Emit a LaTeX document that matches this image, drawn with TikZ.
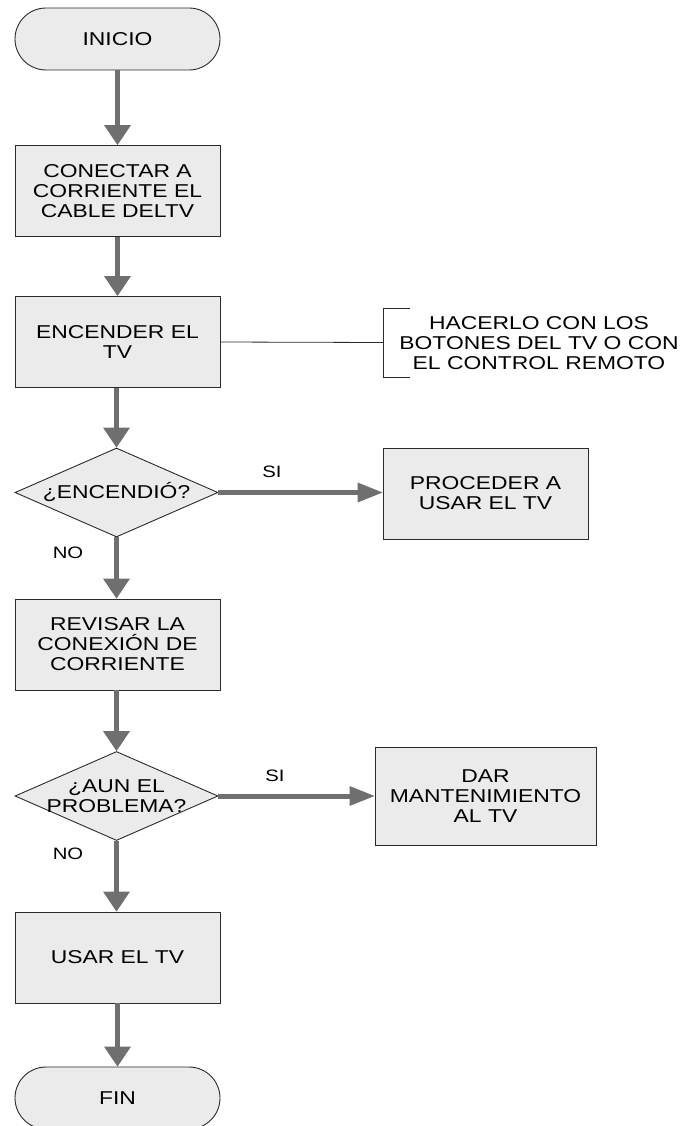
\documentclass[tikz,border=0pt]{standalone}
\usepackage{fontspec}
\setmainfont{Liberation Sans}[FakeStretch=1.23]
\usetikzlibrary{shapes.geometric,arrows.meta}

\definecolor{boxfill}{HTML}{EBEBEB}
\definecolor{linec}{HTML}{2A2A2A}
\definecolor{arrowc}{HTML}{6F6F6F}

\begin{document}
\begin{tikzpicture}[x=1pt,y=-1pt,
  every node/.style={font=\fontsize{18.6pt}{20pt}\selectfont, text=black},
  term/.style={draw=linec, fill=boxfill, line width=0.9pt, rounded corners=31pt,
    minimum width=205pt, minimum height=62pt, inner sep=0pt},
  proc/.style={draw=linec, fill=boxfill, line width=0.9pt, align=center,
    minimum width=205pt, minimum height=91pt, inner sep=0pt},
  decision/.style={diamond, draw=linec, fill=boxfill, line width=0.9pt,
    minimum width=203pt, minimum height=89pt, inner sep=0pt},
  txt/.style={align=center, inner sep=0pt},
  lbl/.style={font=\fontsize{16.5pt}{18pt}\selectfont, inner sep=0pt},
  vflow/.style={draw=arrowc, line width=5pt,
    -{Triangle[length=20pt,width=27pt,line width=0pt]}},
  hflow/.style={draw=arrowc, line width=5pt,
    -{Triangle[length=25pt,width=20pt,line width=0pt]}},
  note/.style={draw=linec, line width=0.8pt}
]
\useasboundingbox (0,0) rectangle (684,1126);

% main column
\node[term] (start) at (117.5,39) {INICIO};
\node[proc] (plug) at (117.5,191) {CONECTAR A\\CORRIENTE EL\\CABLE DELTV};
\node[proc] (power) at (117.5,342) {ENCENDER EL\\TV};
\node[decision] (q1) at (116.5,492.5) {};
\node[txt] (q1t) at (q1) {¿ENCENDIÓ?};
\node[proc] (check) at (117.5,644.5) {REVISAR LA\\CONEXIÓN DE\\CORRIENTE};
\node[decision] (q2) at (116.5,796) {};
\node[txt] (q2t) at (q2) {¿AUN EL\\PROBLEMA?};
\node[proc] (use) at (117.5,957.5) {USAR EL TV};
\node[term] (stop) at (117.5,1098) {FIN};

% side branches
\node[proc, minimum width=205pt, minimum height=91pt] (go) at (485.5,493.5) {PROCEDER A\\USAR EL TV};
\node[proc, minimum width=221pt, minimum height=98pt] (fix) at (485.5,796) {DAR\\MANTENIMIENTO\\AL TV};

% annotation
\coordinate (brk) at (383,342.5);
\node[txt] (hint) at (539,343) {HACERLO CON LOS\\BOTONES DEL TV O CON\\EL CONTROL REMOTO};
\draw[note] (power.east) -- (brk);
\draw[note] ([xshift=27pt,yshift=-34.5pt]brk) -- ([yshift=-34.5pt]brk) -- ([yshift=34.5pt]brk) -- ([xshift=27pt,yshift=34.5pt]brk);

% flow arrows
\draw[vflow] (start.south) -- (plug.north);
\draw[vflow] (plug.south) -- (power.north);
\draw[vflow] ([xshift=-1pt]power.south) -- (q1.north);
\draw[vflow] (q1.south) -- ([xshift=-1pt]check.north);
\draw[vflow] ([xshift=-1pt]check.south) -- (q2.north);
\draw[vflow] (q2.south) -- ([xshift=-1pt]use.north);
\draw[vflow] (use.south) -- (stop.north);
\draw[hflow] (q1.east) -- (q1.east -| go.west);
\draw[hflow] (q2.east) -- (q2.east -| fix.west);

% branch labels
\node[lbl] (si1) at (272,472) {SI};
\node[lbl] (no1) at (68,552.5) {NO};
\node[lbl] (si2) at (275,776) {SI};
\node[lbl] (no2) at (68,854) {NO};
\end{tikzpicture}
\end{document}
